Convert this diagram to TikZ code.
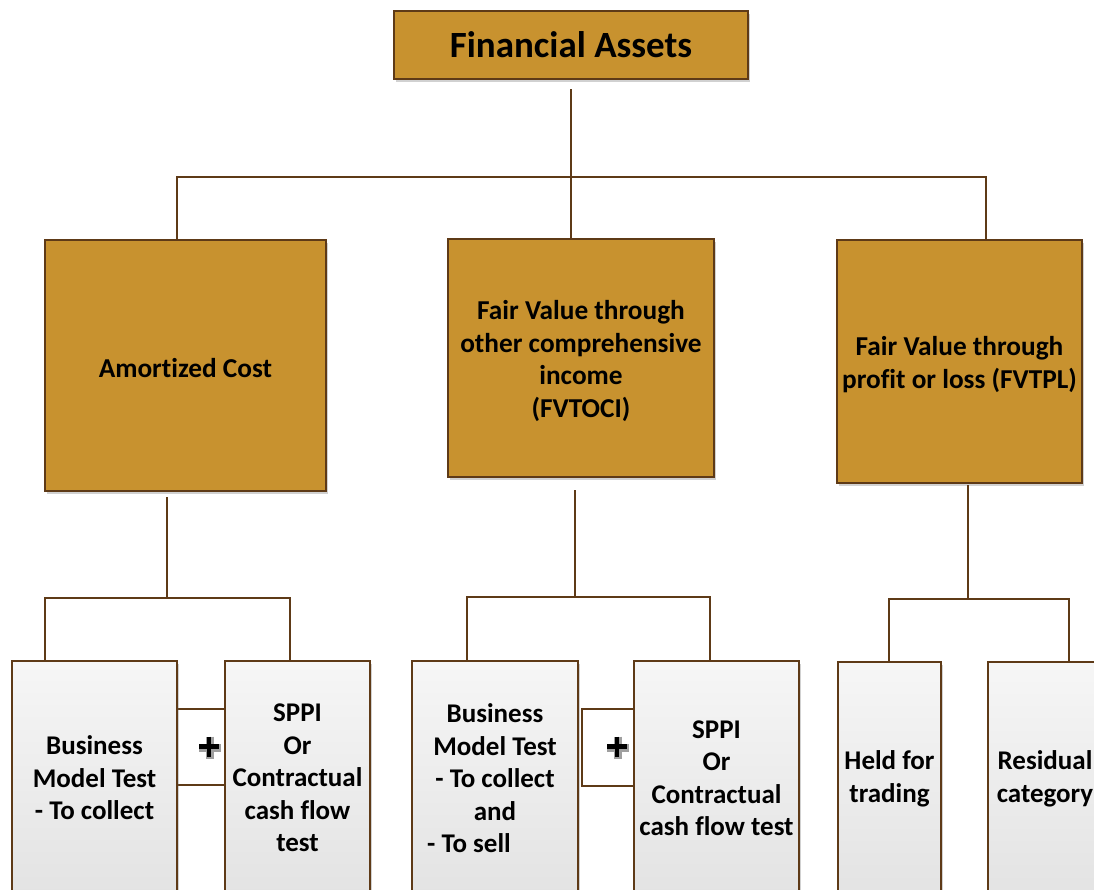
\documentclass[tikz,border=0pt]{standalone}
\usepackage{fontspec}
\setmainfont{Carlito}[Ligatures=NoCommon]
\usetikzlibrary{shadows,calc}
\definecolor{gold}{HTML}{C8922F}
\definecolor{brn}{HTML}{5E3A17}
\tikzset{
  shad/.style={drop shadow={shadow xshift=2pt, shadow yshift=-3pt, opacity=0.3, fill=black!60}},
  goldbox/.style={draw=brn, line width=1.2pt, fill=gold, outer sep=0pt, inner sep=0pt, align=center, shad,
    font=\fontsize{27.3}{32.7}\selectfont\bfseries},
  goldlbl/.style={font=\fontsize{27.3}{32.7}\selectfont\bfseries, align=center, inner sep=0pt, yshift=-3pt},
  greybox/.style={draw=brn, line width=1.2pt, top color=gray!7, bottom color=gray!22, outer sep=0pt, inner sep=0pt,
    align=center, shad, font=\fontsize{27}{32.5}\selectfont\bfseries, minimum height=234pt},
  lbl/.style={font=\fontsize{27}{32.5}\selectfont\bfseries, align=center, inner sep=0pt},
  conn/.style={draw=brn, line width=1.3pt},
  plusbox/.style={draw=brn, line width=1.2pt, fill=white, outer sep=0pt, inner sep=0pt},
  plushalo/.style={draw=gray!75, line width=8pt},
  plusbar/.style={draw=black, line width=4.5pt}
}
\begin{document}
\begin{tikzpicture}[x=1pt,y=-1pt]
\useasboundingbox (0,0) rectangle (1094,889);
\clip (0,0) rectangle (1094,889);
% top
\node[goldbox, minimum width=354pt, minimum height=68pt, font=\fontsize{37}{44}\selectfont\bfseries] (fa) at (571,45) {Financial Assets};
% level 2
\node[goldbox, minimum width=281pt, minimum height=251pt,
  label={[goldlbl]center:Amortized Cost}] (am) at (185.5,365.5) {};
\node[goldbox, minimum width=266pt, minimum height=238pt,
  label={[goldlbl]center:Fair Value through\\other comprehensive\\income\\(FVTOCI)}] (oc) at (581,358) {};
\node[goldbox, minimum width=245pt, minimum height=243pt,
  label={[goldlbl]center:Fair Value through\\profit or loss (FVTPL)}] (pl) at (959.5,361.5) {};
% plus boxes
\node[plusbox, minimum width=49pt, minimum height=76pt] (pb1) at (200.5,747) {};
\node[plusbox, minimum width=52pt, minimum height=77pt] (pb2) at (608,747.5) {};
% level 3
\node[greybox, minimum width=165pt] (b1) at (94.5,778) {Business\\Model Test\\- To collect};
\node[greybox, minimum width=145pt] (s1) at (297.5,778) {SPPI\\Or\\Contractual\\cash flow\\test};
\node[greybox, minimum width=166pt] (b2) at (495,778) {};
\node[lbl] (b2t) at (495,762) {Business\\Model Test\\- To collect\\and};
\node[lbl, anchor=west] (b2u) at (427,843) {- To sell};
\node[greybox, minimum width=165pt] (s2) at (716.5,778) {SPPI\\Or\\Contractual\\cash flow test};
\node[greybox, minimum width=103pt] (ht) at (889.5,779) {Held for\\trading};
\node[greybox, minimum width=114pt] (rc) at (1045,779) {Residual\\category};
% plus signs
\coordinate (p1) at (209,746.5);
\coordinate (p2) at (617,746.5);
\foreach \p in {p1,p2}{
  \draw[plushalo] ($(\p)+(-10,1)$) -- ($(\p)+(12,1)$);
  \draw[plushalo] ($(\p)+(1,-10)$) -- ($(\p)+(1,12)$);
  \draw[plusbar] ($(\p)+(-10,0)$) -- ($(\p)+(10,0)$);
  \draw[plusbar] ($(\p)+(0,-10)$) -- ($(\p)+(0,10)$);
}
% connectors top
\coordinate (j0) at ($(fa.south)+(0,98)$);
\draw[conn] ($(fa.south)+(0,10)$) -- (j0);
\draw[conn] (j0) -| ($(am.north)+(-8.5,0)$);
\draw[conn] (j0) -- ($(oc.north)+(-10,0)$);
\draw[conn] (j0) -| ($(pl.north)+(26.5,0)$);
% connectors amortized
\coordinate (j1) at ($(am.south)+(-18.5,107)$);
\draw[conn] ($(am.south)+(-18.5,6)$) -- (j1);
\draw[conn] (j1) -| ($(b1.north)+(-49.5,0)$);
\draw[conn] (j1) -| ($(s1.north)+(-7.5,0)$);
% connectors fvtoci
\coordinate (j2) at ($(oc.south)+(-6,120)$);
\draw[conn] ($(oc.south)+(-6,13)$) -- (j2);
\draw[conn] (j2) -| ($(b2.north)+(-28,0)$);
\draw[conn] (j2) -| ($(s2.north)+(-6.5,0)$);
% connectors fvtpl
\coordinate (j3) at ($(pl.south)+(8.5,116)$);
\draw[conn] ($(pl.south)+(8.5,2)$) -- (j3);
\draw[conn] (j3) -| ($(ht.north)+(-0.5,0)$);
\draw[conn] (j3) -| ($(rc.north)+(24,0)$);
\end{tikzpicture}
\end{document}
